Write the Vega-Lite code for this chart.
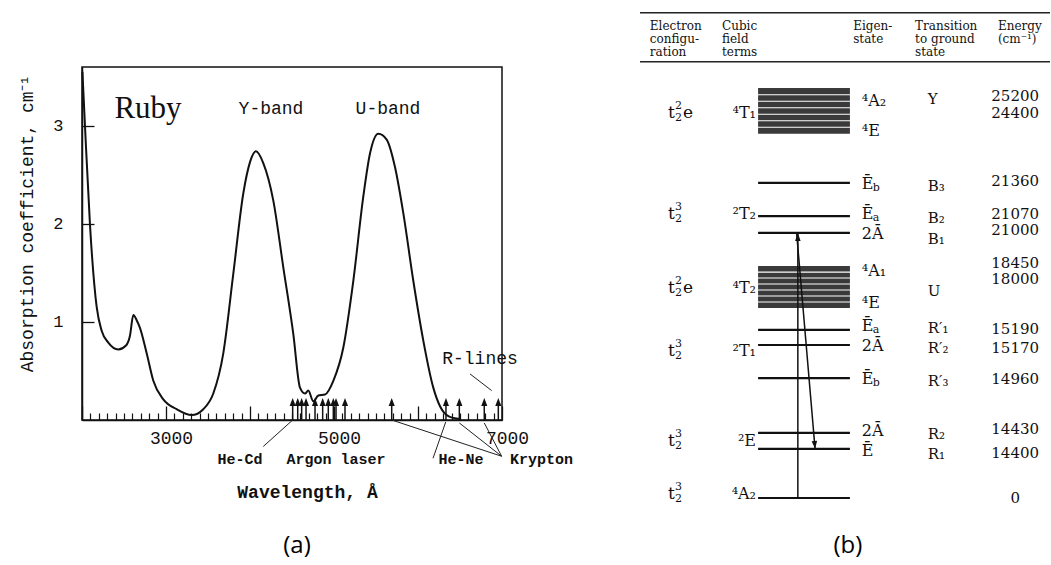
{
  "$schema": "https://vega.github.io/schema/vega-lite/v6.json",
  "background": "white",
  "padding": {"left": 18, "top": 11, "right": 0, "bottom": 0},
  "bounds": "flush",
  "spacing": 138,
  "config": {"view": {"stroke": null}, "text": {"color": "#111"}},
  "datasets": {
    "curve": [
      {"wavelength": 2005, "absorption": 3.55}, {"wavelength": 2036, "absorption": 2.99}, {"wavelength": 2095, "absorption": 1.99},
      {"wavelength": 2175, "absorption": 1.15}, {"wavelength": 2234, "absorption": 0.91}, {"wavelength": 2313, "absorption": 0.79},
      {"wavelength": 2432, "absorption": 0.72}, {"wavelength": 2524, "absorption": 0.76}, {"wavelength": 2571, "absorption": 0.86},
      {"wavelength": 2611, "absorption": 1.07}, {"wavelength": 2655, "absorption": 1.01}, {"wavelength": 2690, "absorption": 0.94},
      {"wavelength": 2770, "absorption": 0.68}, {"wavelength": 2849, "absorption": 0.40}, {"wavelength": 2968, "absorption": 0.21},
      {"wavelength": 3127, "absorption": 0.11}, {"wavelength": 3306, "absorption": 0.05}, {"wavelength": 3444, "absorption": 0.11},
      {"wavelength": 3563, "absorption": 0.27}, {"wavelength": 3682, "absorption": 0.68}, {"wavelength": 3801, "absorption": 1.49},
      {"wavelength": 3920, "absorption": 2.31}, {"wavelength": 4000, "absorption": 2.63}, {"wavelength": 4071, "absorption": 2.74},
      {"wavelength": 4158, "absorption": 2.62}, {"wavelength": 4277, "absorption": 2.24}, {"wavelength": 4396, "absorption": 1.56},
      {"wavelength": 4515, "absorption": 0.88}, {"wavelength": 4595, "absorption": 0.33}, {"wavelength": 4655, "absorption": 0.27},
      {"wavelength": 4694, "absorption": 0.30}, {"wavelength": 4754, "absorption": 0.19}, {"wavelength": 4813, "absorption": 0.25},
      {"wavelength": 4893, "absorption": 0.26}, {"wavelength": 4992, "absorption": 0.40}, {"wavelength": 5111, "absorption": 0.74},
      {"wavelength": 5230, "absorption": 1.42}, {"wavelength": 5349, "absorption": 2.28}, {"wavelength": 5429, "absorption": 2.72},
      {"wavelength": 5527, "absorption": 2.92}, {"wavelength": 5627, "absorption": 2.86}, {"wavelength": 5726, "absorption": 2.58},
      {"wavelength": 5825, "absorption": 2.11}, {"wavelength": 5944, "absorption": 1.42}, {"wavelength": 6063, "absorption": 0.81},
      {"wavelength": 6182, "absorption": 0.33}, {"wavelength": 6262, "absorption": 0.14}, {"wavelength": 6361, "absorption": 0.04},
      {"wavelength": 6500, "absorption": 0.01}
    ],
    "lasers": [
      {"wavelength": 4508, "laser": "He-Cd"}, {"wavelength": 4568, "laser": "Argon"}, {"wavelength": 4615, "laser": "Argon"},
      {"wavelength": 4667, "laser": "Argon"}, {"wavelength": 4774, "laser": "Argon"}, {"wavelength": 4865, "laser": "Argon"},
      {"wavelength": 4932, "laser": "Argon"}, {"wavelength": 4992, "laser": "Argon"}, {"wavelength": 5024, "laser": "Argon"},
      {"wavelength": 5131, "laser": "Argon"}, {"wavelength": 5687, "laser": "Krypton"}, {"wavelength": 6333, "laser": "He-Ne"},
      {"wavelength": 6492, "laser": "Krypton"}, {"wavelength": 6789, "laser": "Krypton"}, {"wavelength": 6956, "laser": "R-lines"}
    ],
    "leaders_a": [
      {"label": "He-Cd", "x": 4508, "y": 0, "x2": 4158, "y2": -0.27},
      {"label": "He-Ne", "x": 6330, "y": -0.02, "x2": 6179, "y2": -0.39},
      {"label": "Krypton", "x": 5687, "y": 0, "x2": 6996, "y2": -0.37},
      {"label": "Krypton", "x": 6492, "y": -0.03, "x2": 6996, "y2": -0.37},
      {"label": "Krypton", "x": 6789, "y": -0.03, "x2": 6996, "y2": -0.37},
      {"label": "R-lines", "x": 6619, "y": 0.47, "x2": 6877, "y2": 0.30}
    ],
    "laser_labels": [
      {"text": "He-Cd", "x": 3881, "y": -0.40},
      {"text": "Argon laser", "x": 5024, "y": -0.40},
      {"text": "He-Ne", "x": 6512, "y": -0.40}
    ],
    "band_labels": [
      {"text": "Y-band", "x": 4250, "y": 3.17},
      {"text": "U-band", "x": 5643, "y": 3.17},
      {"text": "R-lines", "x": 6738, "y": 0.62}
    ],
    "stripes": [
      {"term": "4T1", "top": 95.1, "bottom": 93.7}, {"term": "4T1", "top": 93.47, "bottom": 92.17},
      {"term": "4T1", "top": 91.95, "bottom": 90.66}, {"term": "4T1", "top": 90.44, "bottom": 89.14},
      {"term": "4T1", "top": 88.92, "bottom": 87.63}, {"term": "4T1", "top": 87.41, "bottom": 86.11},
      {"term": "4T1", "top": 85.89, "bottom": 84.5},
      {"term": "4T2", "top": 53.8, "bottom": 52.53}, {"term": "4T2", "top": 52.29, "bottom": 51.15},
      {"term": "4T2", "top": 50.91, "bottom": 49.76}, {"term": "4T2", "top": 49.52, "bottom": 48.38},
      {"term": "4T2", "top": 48.14, "bottom": 46.99}, {"term": "4T2", "top": 46.75, "bottom": 45.61},
      {"term": "4T2", "top": 45.37, "bottom": 44.1}
    ],
    "levels_b": [
      {"state": "Eb", "energy": 21360, "level": 73.1}, {"state": "Ea", "energy": 21070, "level": 65.4},
      {"state": "2A", "energy": 21000, "level": 61.5}, {"state": "Ea", "energy": 15190, "level": 39.0},
      {"state": "2A", "energy": 15170, "level": 35.5}, {"state": "Eb", "energy": 14960, "level": 27.8},
      {"state": "2A", "energy": 14430, "level": 15.1}, {"state": "E", "energy": 14400, "level": 11.4},
      {"state": "4A2", "energy": 0, "level": 0}
    ],
    "header_rules": [{"line": "top", "y": 112.6}, {"line": "bottom", "y": 101.2}],
    "transitions_b": [
      {"kind": "pump", "x": 38.5, "y": 0, "x2": 38.5, "y2": 61.5, "angle": 0},
      {"kind": "decay", "x": 38.2, "y": 61.5, "x2": 42.7, "y2": 11.4, "angle": 175}
    ],
    "header_b": [
      {"h": "Electron", "x": 2.4, "y": 109.6}, {"h": "configu-", "x": 2.4, "y": 106.6}, {"h": "ration", "x": 2.4, "y": 103.5},
      {"h": "Cubic", "x": 20, "y": 109.6}, {"h": "field", "x": 20, "y": 106.6}, {"h": "terms", "x": 20, "y": 103.5},
      {"h": "Eigen-", "x": 52, "y": 109.6}, {"h": "state", "x": 52, "y": 106.6},
      {"h": "Transition", "x": 67.1, "y": 109.6}, {"h": "to ground", "x": 67.1, "y": 106.6}, {"h": "state", "x": 67.1, "y": 103.5},
      {"h": "Energy", "x": 87.3, "y": 109.6}, {"h": "(cm⁻¹)", "x": 87.3, "y": 106.6}
    ],
    "config_b": [
      {"sup": "2", "tail": "e", "y": 89.3}, {"sup": "3", "tail": "", "y": 65.9}, {"sup": "2", "tail": "e", "y": 48.7},
      {"sup": "3", "tail": "", "y": 34.1}, {"sup": "3", "tail": "", "y": 13.2}, {"sup": "3", "tail": "", "y": 0.9}
    ],
    "terms_b": [
      {"term": "⁴T₁", "y": 89.3}, {"term": "²T₂", "y": 65.9}, {"term": "⁴T₂", "y": 48.7},
      {"term": "²T₁", "y": 34.1}, {"term": "²E", "y": 13.2}, {"term": "⁴A₂", "y": 0.9}
    ],
    "eigen_b": [
      {"s": "⁴A₂", "sub": "", "y": 92.1}, {"s": "⁴E", "sub": "", "y": 85.2}, {"s": "Ē", "sub": "b", "y": 72.9},
      {"s": "Ē", "sub": "a", "y": 65.9}, {"s": "2Ā", "sub": "", "y": 61.3}, {"s": "⁴A₁", "sub": "", "y": 52.7},
      {"s": "⁴E", "sub": "", "y": 45.2}, {"s": "Ē", "sub": "a", "y": 39.9}, {"s": "2Ā", "sub": "", "y": 35.3},
      {"s": "Ē", "sub": "b", "y": 27.6}, {"s": "2Ā", "sub": "", "y": 15.5}, {"s": "Ē", "sub": "", "y": 10.9}
    ],
    "trans_b": [
      {"t": "Y", "y": 92.6}, {"t": "B₃", "y": 72.4}, {"t": "B₂", "y": 65.0}, {"t": "B₁", "y": 60.1}, {"t": "U", "y": 48.0},
      {"t": "R′₁", "y": 39.4}, {"t": "R′₂", "y": 34.8}, {"t": "R′₃", "y": 27.1}, {"t": "R₂", "y": 14.8}, {"t": "R₁", "y": 10.2}
    ],
    "energy_b": [
      {"e": "25200", "y": 93.3}, {"e": "24400", "y": 89.4}, {"e": "21360", "y": 73.5}, {"e": "21070", "y": 66.0},
      {"e": "21000", "y": 62.2}, {"e": "18450", "y": 54.6}, {"e": "18000", "y": 50.7}, {"e": "15190", "y": 39.1},
      {"e": "15170", "y": 34.9}, {"e": "14960", "y": 27.7}, {"e": "14430", "y": 15.9}, {"e": "14400", "y": 10.5},
      {"e": "0", "y": 0.1}
    ],
    "captions": [{"panel": "a", "text": "(a)", "x": 4560, "y": -1.29}, {"panel": "b", "text": "(b)", "x": 50.7, "y": -11.1}]
  },
  "hconcat": [
    {
      "width": 420,
      "height": 353,
      "view": {"stroke": "#111", "strokeWidth": 1.5},
      "resolve": {"axis": {"x": "independent"}},
      "layer": [
        {
          "data": {"name": "curve"},
          "mark": {"type": "line", "color": "#111", "strokeWidth": 2, "interpolate": "monotone"},
          "encoding": {
            "x": {
              "field": "wavelength", "type": "quantitative",
              "scale": {"domain": [2000, 7000], "nice": false, "zero": false},
              "axis": {
                "orient": "bottom", "values": [2000, 3000, 4000, 5000, 6000, 7000], "tickSize": -14, "tickWidth": 1.3,
                "tickColor": "#111", "domainColor": "#111", "domainWidth": 1.5, "format": "d",
                "labelExpr": "datum.value == 3000 || datum.value == 5000 || datum.value == 7000 ? datum.label : ''",
                "labelFont": "Liberation Mono", "labelFontSize": 18, "labelColor": "#111", "labelPadding": 23,
                "labelOffset": 5, "labelFlush": false, "labelOverlap": false, "grid": false,
                "title": "Wavelength, Å", "titleFont": "Liberation Mono", "titleFontSize": 18, "titleFontWeight": "bold",
                "titleColor": "#111", "titlePadding": 36, "titleX": 225
              }
            },
            "y": {
              "field": "absorption", "type": "quantitative",
              "scale": {"domain": [0, 3.6], "nice": false, "zero": true},
              "axis": {
                "values": [1, 2, 3], "format": "d", "tickSize": -12, "tickWidth": 1.3, "tickColor": "#111", "domainColor": "#111",
                "domainWidth": 1.5, "labelFont": "Liberation Mono", "labelFontSize": 17, "labelColor": "#111",
                "labelPadding": 31, "grid": false,
                "title": "Absorption coefficient, cm⁻¹", "titleFont": "Liberation Mono", "titleFontSize": 18,
                "titleFontWeight": "normal", "titleColor": "#111", "titlePadding": 16, "titleY": 156
              }
            }
          }
        },
        {
          "data": {"name": "lasers"},
          "mark": {"type": "rule", "color": "#111", "strokeWidth": 1.5},
          "encoding": {
            "x": {
              "field": "wavelength", "type": "quantitative",
              "axis": {
                "orient": "bottom",
                "values": [2100, 2200, 2300, 2400, 2500, 2600, 2700, 2800, 2900, 3100, 3200, 3300, 3400, 3500, 3600, 3700, 3800, 3900, 4100, 4200, 4300, 4400, 4500, 4600, 4700, 4800, 4900, 5100, 5200, 5300, 5400, 5500, 5600, 5700, 5800, 5900, 6100, 6200, 6300, 6400, 6500, 6600, 6700, 6800, 6900],
                "tickSize": -7, "tickWidth": 1.2, "tickColor": "#111", "domain": false, "labels": false,
                "grid": false, "title": null
              }
            },
            "y": {"datum": 0},
            "y2": {"datum": 0.17}
          }
        },
        {
          "data": {"name": "lasers"},
          "mark": {"type": "point", "shape": "M0,0 L0.5,1.3 L-0.5,1.3 Z", "filled": true, "color": "#111", "opacity": 1, "size": 150},
          "encoding": {
            "x": {"field": "wavelength", "type": "quantitative", "axis": null},
            "y": {"datum": 0.225}
          }
        },
        {
          "data": {"name": "leaders_a"},
          "mark": {"type": "rule", "color": "#222", "strokeWidth": 1},
          "encoding": {
            "x": {"field": "x", "type": "quantitative", "axis": null},
            "y": {"field": "y", "type": "quantitative"},
            "x2": {"field": "x2"},
            "y2": {"field": "y2"}
          }
        },
        {
          "data": {"name": "laser_labels"},
          "mark": {"type": "text", "font": "Liberation Mono", "fontSize": 15, "fontWeight": "bold", "align": "center", "baseline": "middle"},
          "encoding": {
            "x": {"field": "x", "type": "quantitative", "axis": null},
            "y": {"field": "y", "type": "quantitative"},
            "text": {"field": "text"}
          }
        },
        {
          "data": {"values": [{"text": "Krypton", "x": 7095, "y": -0.40}]},
          "mark": {"type": "text", "font": "Liberation Mono", "fontSize": 15, "fontWeight": "bold", "align": "left", "baseline": "middle"},
          "encoding": {
            "x": {"field": "x", "type": "quantitative", "axis": null},
            "y": {"field": "y", "type": "quantitative"},
            "text": {"field": "text"}
          }
        },
        {
          "data": {"name": "band_labels"},
          "mark": {"type": "text", "font": "Liberation Mono", "fontSize": 18, "align": "center", "baseline": "middle"},
          "encoding": {
            "x": {"field": "x", "type": "quantitative", "axis": null},
            "y": {"field": "y", "type": "quantitative"},
            "text": {"field": "text"}
          }
        },
        {
          "data": {"values": [{"text": "Ruby", "x": 2786, "y": 3.17}]},
          "mark": {"type": "text", "font": "Liberation Serif", "fontSize": 31, "align": "center", "baseline": "middle"},
          "encoding": {
            "x": {"field": "x", "type": "quantitative", "axis": null},
            "y": {"field": "y", "type": "quantitative"},
            "text": {"field": "text"}
          }
        },
        {
          "data": {"name": "captions"},
          "transform": [{"filter": "datum.panel == 'a'"}],
          "mark": {"type": "text", "font": "Open Sans", "fontSize": 24, "align": "center", "baseline": "middle", "color": "#000"},
          "encoding": {
            "x": {"field": "x", "type": "quantitative", "axis": null},
            "y": {"field": "y", "type": "quantitative"},
            "text": {"field": "text"}
          }
        }
      ]
    },
    {
      "width": 410,
      "height": 431,
      "view": {"stroke": null},
      "layer": [
        {
          "data": {"name": "stripes"},
          "mark": {"type": "rect", "color": "#3a3a3a"},
          "encoding": {
            "x": {"datum": 28.8, "type": "quantitative", "scale": {"domain": [0, 100], "nice": false, "zero": false}, "axis": null},
            "x2": {"datum": 51.2},
            "y": {"field": "top", "type": "quantitative", "scale": {"domain": [0, 100], "nice": false, "zero": false}, "axis": null},
            "y2": {"field": "bottom"}
          }
        },
        {
          "data": {"name": "levels_b"},
          "mark": {"type": "rule", "color": "#111", "strokeWidth": 2.2},
          "encoding": {
            "x": {"datum": 28.8, "type": "quantitative", "axis": null},
            "x2": {"datum": 51.2},
            "y": {"field": "level", "type": "quantitative", "axis": null}
          }
        },
        {
          "data": {"name": "header_rules"},
          "mark": {"type": "rule", "color": "#222", "strokeWidth": 1.5},
          "encoding": {
            "x": {"datum": 0, "type": "quantitative", "axis": null},
            "x2": {"datum": 100},
            "y": {"field": "y", "type": "quantitative", "axis": null}
          }
        },
        {
          "data": {"name": "transitions_b"},
          "mark": {"type": "rule", "color": "#111", "strokeWidth": 1.5},
          "encoding": {
            "x": {"field": "x", "type": "quantitative", "axis": null},
            "y": {"field": "y", "type": "quantitative", "axis": null},
            "x2": {"field": "x2"},
            "y2": {"field": "y2"}
          }
        },
        {
          "data": {"name": "transitions_b"},
          "mark": {"type": "point", "shape": "M0,0 L0.45,1.3 L-0.45,1.3 Z", "filled": true, "color": "#111", "opacity": 1, "size": 150},
          "encoding": {
            "x": {"field": "x2", "type": "quantitative", "axis": null},
            "y": {"field": "y2", "type": "quantitative", "axis": null},
            "angle": {"field": "angle", "type": "quantitative", "scale": null}
          }
        },
        {
          "data": {"name": "header_b"},
          "mark": {"type": "text", "font": "DejaVu Serif", "fontSize": 12, "align": "left", "baseline": "middle"},
          "encoding": {
            "x": {"field": "x", "type": "quantitative", "axis": null},
            "y": {"field": "y", "type": "quantitative", "axis": null},
            "text": {"field": "h"}
          }
        },
        {
          "data": {"name": "config_b"},
          "mark": {"type": "text", "font": "DejaVu Serif", "fontSize": 17, "align": "left", "baseline": "middle"},
          "encoding": {
            "x": {"datum": 6.8, "type": "quantitative", "axis": null},
            "y": {"field": "y", "type": "quantitative", "axis": null},
            "text": {"value": "t"}
          }
        },
        {
          "data": {"name": "config_b"},
          "mark": {"type": "text", "font": "DejaVu Serif", "fontSize": 11, "align": "left", "baseline": "middle", "dx": 7, "dy": -7},
          "encoding": {
            "x": {"datum": 6.8, "type": "quantitative", "axis": null},
            "y": {"field": "y", "type": "quantitative", "axis": null},
            "text": {"field": "sup"}
          }
        },
        {
          "data": {"name": "config_b"},
          "mark": {"type": "text", "font": "DejaVu Serif", "fontSize": 11, "align": "left", "baseline": "middle", "dx": 7, "dy": 5},
          "encoding": {
            "x": {"datum": 6.8, "type": "quantitative", "axis": null},
            "y": {"field": "y", "type": "quantitative", "axis": null},
            "text": {"value": "2"}
          }
        },
        {
          "data": {"name": "config_b"},
          "mark": {"type": "text", "font": "DejaVu Serif", "fontSize": 17, "align": "left", "baseline": "middle", "dx": 15},
          "encoding": {
            "x": {"datum": 6.8, "type": "quantitative", "axis": null},
            "y": {"field": "y", "type": "quantitative", "axis": null},
            "text": {"field": "tail"}
          }
        },
        {
          "data": {"name": "terms_b"},
          "mark": {"type": "text", "font": "DejaVu Serif", "fontSize": 16, "align": "right", "baseline": "middle"},
          "encoding": {
            "x": {"datum": 28.3, "type": "quantitative", "axis": null},
            "y": {"field": "y", "type": "quantitative", "axis": null},
            "text": {"field": "term"}
          }
        },
        {
          "data": {"name": "eigen_b"},
          "mark": {"type": "text", "font": "DejaVu Serif", "fontSize": 16, "align": "left", "baseline": "middle"},
          "encoding": {
            "x": {"datum": 54.1, "type": "quantitative", "axis": null},
            "y": {"field": "y", "type": "quantitative", "axis": null},
            "text": {"field": "s"}
          }
        },
        {
          "data": {"name": "eigen_b"},
          "mark": {"type": "text", "font": "DejaVu Serif", "fontSize": 11, "align": "left", "baseline": "middle", "dx": 11, "dy": 4},
          "encoding": {
            "x": {"datum": 54.1, "type": "quantitative", "axis": null},
            "y": {"field": "y", "type": "quantitative", "axis": null},
            "text": {"field": "sub"}
          }
        },
        {
          "data": {"name": "trans_b"},
          "mark": {"type": "text", "font": "DejaVu Serif", "fontSize": 15, "align": "left", "baseline": "middle"},
          "encoding": {
            "x": {"datum": 70.2, "type": "quantitative", "axis": null},
            "y": {"field": "y", "type": "quantitative", "axis": null},
            "text": {"field": "t"}
          }
        },
        {
          "data": {"name": "energy_b"},
          "mark": {"type": "text", "font": "DejaVu Serif", "fontSize": 15, "align": "center", "baseline": "middle"},
          "encoding": {
            "x": {"datum": 91.5, "type": "quantitative", "axis": null},
            "y": {"field": "y", "type": "quantitative", "axis": null},
            "text": {"field": "e"}
          }
        },
        {
          "data": {"name": "captions"},
          "transform": [{"filter": "datum.panel == 'b'"}],
          "mark": {"type": "text", "font": "Open Sans", "fontSize": 24, "align": "center", "baseline": "middle", "color": "#000"},
          "encoding": {
            "x": {"field": "x", "type": "quantitative", "axis": null},
            "y": {"field": "y", "type": "quantitative", "axis": null},
            "text": {"field": "text"}
          }
        }
      ]
    }
  ]
}
